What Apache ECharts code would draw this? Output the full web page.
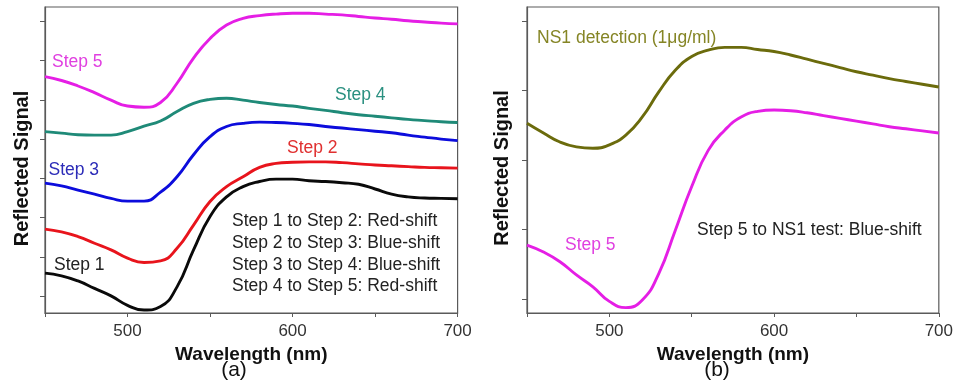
<!DOCTYPE html>
<html><head><meta charset="utf-8">
<script src="https://cdn.jsdelivr.net/npm/echarts@6/dist/echarts.min.js"></script>
<style>html,body{margin:0;padding:0;background:#fff}#c{width:956px;height:381px}</style>
</head><body><div id="c"></div>
<script>
const wavelengths = [450,460,470,480,490,500,510,520,530,540,550,560,570,580,590,600,610,620,630,640,650,660,670,680,690,700];
// Panel (a): reflected signal (arbitrary units)
const step5a = [6.59,6.49,6.35,6.18,5.99,5.84,5.81,5.93,6.42,7.06,7.56,7.90,8.07,8.14,8.18,8.20,8.20,8.18,8.16,8.12,8.08,8.05,8.01,7.98,7.95,7.93];
const step4  = [5.19,5.15,5.11,5.10,5.10,5.19,5.33,5.46,5.70,5.91,6.01,6.04,5.99,5.93,5.88,5.84,5.78,5.73,5.67,5.62,5.58,5.54,5.50,5.47,5.44,5.42];
const step3  = [3.88,3.81,3.70,3.60,3.49,3.42,3.42,3.65,4.04,4.60,5.06,5.32,5.40,5.43,5.42,5.40,5.37,5.32,5.28,5.24,5.20,5.16,5.10,5.05,5.00,4.96];
const step2  = [2.71,2.64,2.52,2.35,2.18,1.97,1.86,1.90,2.22,2.81,3.41,3.79,4.04,4.28,4.38,4.41,4.42,4.42,4.40,4.37,4.34,4.32,4.30,4.28,4.27,4.26];
const step1  = [1.59,1.52,1.39,1.20,1.01,0.77,0.65,0.74,1.24,2.18,3.03,3.53,3.79,3.92,3.98,3.98,3.94,3.92,3.89,3.85,3.73,3.60,3.53,3.50,3.49,3.48];
// Panel (b)
const ns1    = [3.53,3.39,3.26,3.19,3.17,3.22,3.36,3.62,3.98,4.29,4.49,4.58,4.62,4.62,4.59,4.56,4.51,4.45,4.39,4.33,4.27,4.22,4.17,4.13,4.09,4.05];
const step5b = [1.78,1.68,1.54,1.35,1.18,0.97,0.88,0.99,1.37,1.99,2.62,3.14,3.43,3.62,3.70,3.72,3.71,3.68,3.64,3.60,3.56,3.52,3.48,3.45,3.42,3.39];
// Axis ticks
const xTicks = [450,500,550,600,650,700];
const xLabels = [500,600,700];
const yTicksA = [1,2,3,4,5,6,7,8];
const yTicksB = [1,2,3,4,5];

const FONT = '"Liberation Sans", Arial, sans-serif';
const pairs = ys => wavelengths.map((x, i) => [x, ys[i]]);
const axisCol = '#5a5a5a';

function xAx(gi) {
  return {
    type: 'value', gridIndex: gi, min: 450, max: 700,
    name: 'Wavelength (nm)', nameLocation: 'middle', nameGap: 22,
    nameTextStyle: {fontFamily: FONT, fontWeight: 'bold', fontSize: 19, color: '#111'},
    axisLine: {show: true, lineStyle: {color: axisCol, width: 1.2}},
    axisTick: {show: true, length: 4, customValues: xTicks, lineStyle: {color: axisCol}},
    axisLabel: {show: true, customValues: xLabels, fontFamily: FONT, fontSize: 17, color: '#333', margin: 10},
    splitLine: {show: false}
  };
}
function yAx(gi, min, max, ticks) {
  return {
    type: 'value', gridIndex: gi, min: min, max: max,
    axisLine: {show: true, lineStyle: {color: axisCol, width: 1.2}},
    axisTick: {show: true, length: 5, customValues: ticks, lineStyle: {color: axisCol}},
    axisLabel: {show: false},
    splitLine: {show: false}
  };
}
function ser(xi, data, color, w) {
  return {type: 'line', xAxisIndex: xi, yAxisIndex: xi, data: data, smooth: 0.5,
    showSymbol: false, symbol: 'none', lineStyle: {color: color, width: w || 2.9}, silent: true};
}
function txt(x, y, s, color, size, extra, el) {
  return Object.assign({type: 'text', x: x, y: y, silent: true,
    style: Object.assign({text: s, fill: color, font: (size || 17.5) + 'px ' + FONT,
      align: 'left', verticalAlign: 'middle'}, extra || {})}, el || {});
}

const chart = echarts.init(document.getElementById('c'), null, {renderer: 'canvas'});
chart.setOption({
  animation: false,
  backgroundColor: '#fff',
  grid: [
    {left: 45, top: 7, width: 412.6, height: 306, show: true, borderColor: axisCol, borderWidth: 1.2, containLabel: false},
    {left: 527, top: 7, width: 414, height: 306, show: true, borderColor: axisCol, borderWidth: 1.2, containLabel: false}
  ],
  xAxis: [xAx(0), xAx(1)],
  yAxis: [yAx(0, 0.575, 8.36, yTicksA), yAx(1, 0.803, 5.2, yTicksB)],
  series: [
    ser(0, pairs(step5a), '#e51ee5'),
    ser(0, pairs(step4), '#1f8a78'),
    ser(0, pairs(step3), '#0c0cdc'),
    ser(0, pairs(step2), '#e8141c'),
    ser(0, pairs(step1), '#0a0a0a'),
    ser(1, pairs(ns1), '#6b6b0c'),
    ser(1, pairs(step5b), '#e51ee5')
  ],
  graphic: [
    txt(22, 168.5, 'Reflected Signal', '#111', 20, {align: 'center', font: 'bold 20px ' + FONT}, {rotation: Math.PI / 2}),
    txt(502, 168, 'Reflected Signal', '#111', 20, {align: 'center', font: 'bold 20px ' + FONT}, {rotation: Math.PI / 2}),
    txt(52, 62, 'Step 5', '#e040e0'),
    txt(335, 95, 'Step 4', '#2a9080'),
    txt(48.5, 170, 'Step 3', '#2c2cb8'),
    txt(287, 148, 'Step 2', '#e03030'),
    txt(54, 265, 'Step 1', '#222'),
    txt(232, 254, 'Step 1 to Step 2: Red-shift\nStep 2 to Step 3: Blue-shift\nStep 3 to Step 4: Blue-shift\nStep 4 to Step 5: Red-shift', '#222', 17.5, {lineHeight: 21.7}),
    txt(537, 38.5, 'NS1 detection (1μg/ml)', '#858525'),
    txt(565, 245, 'Step 5', '#e040e0'),
    txt(697, 230, 'Step 5 to NS1 test: Blue-shift', '#222'),
    txt(234, 370, '(a)', '#111', 21, {align: 'center'}),
    txt(717, 370, '(b)', '#111', 21, {align: 'center'})
  ]
});
</script>
</body></html>
